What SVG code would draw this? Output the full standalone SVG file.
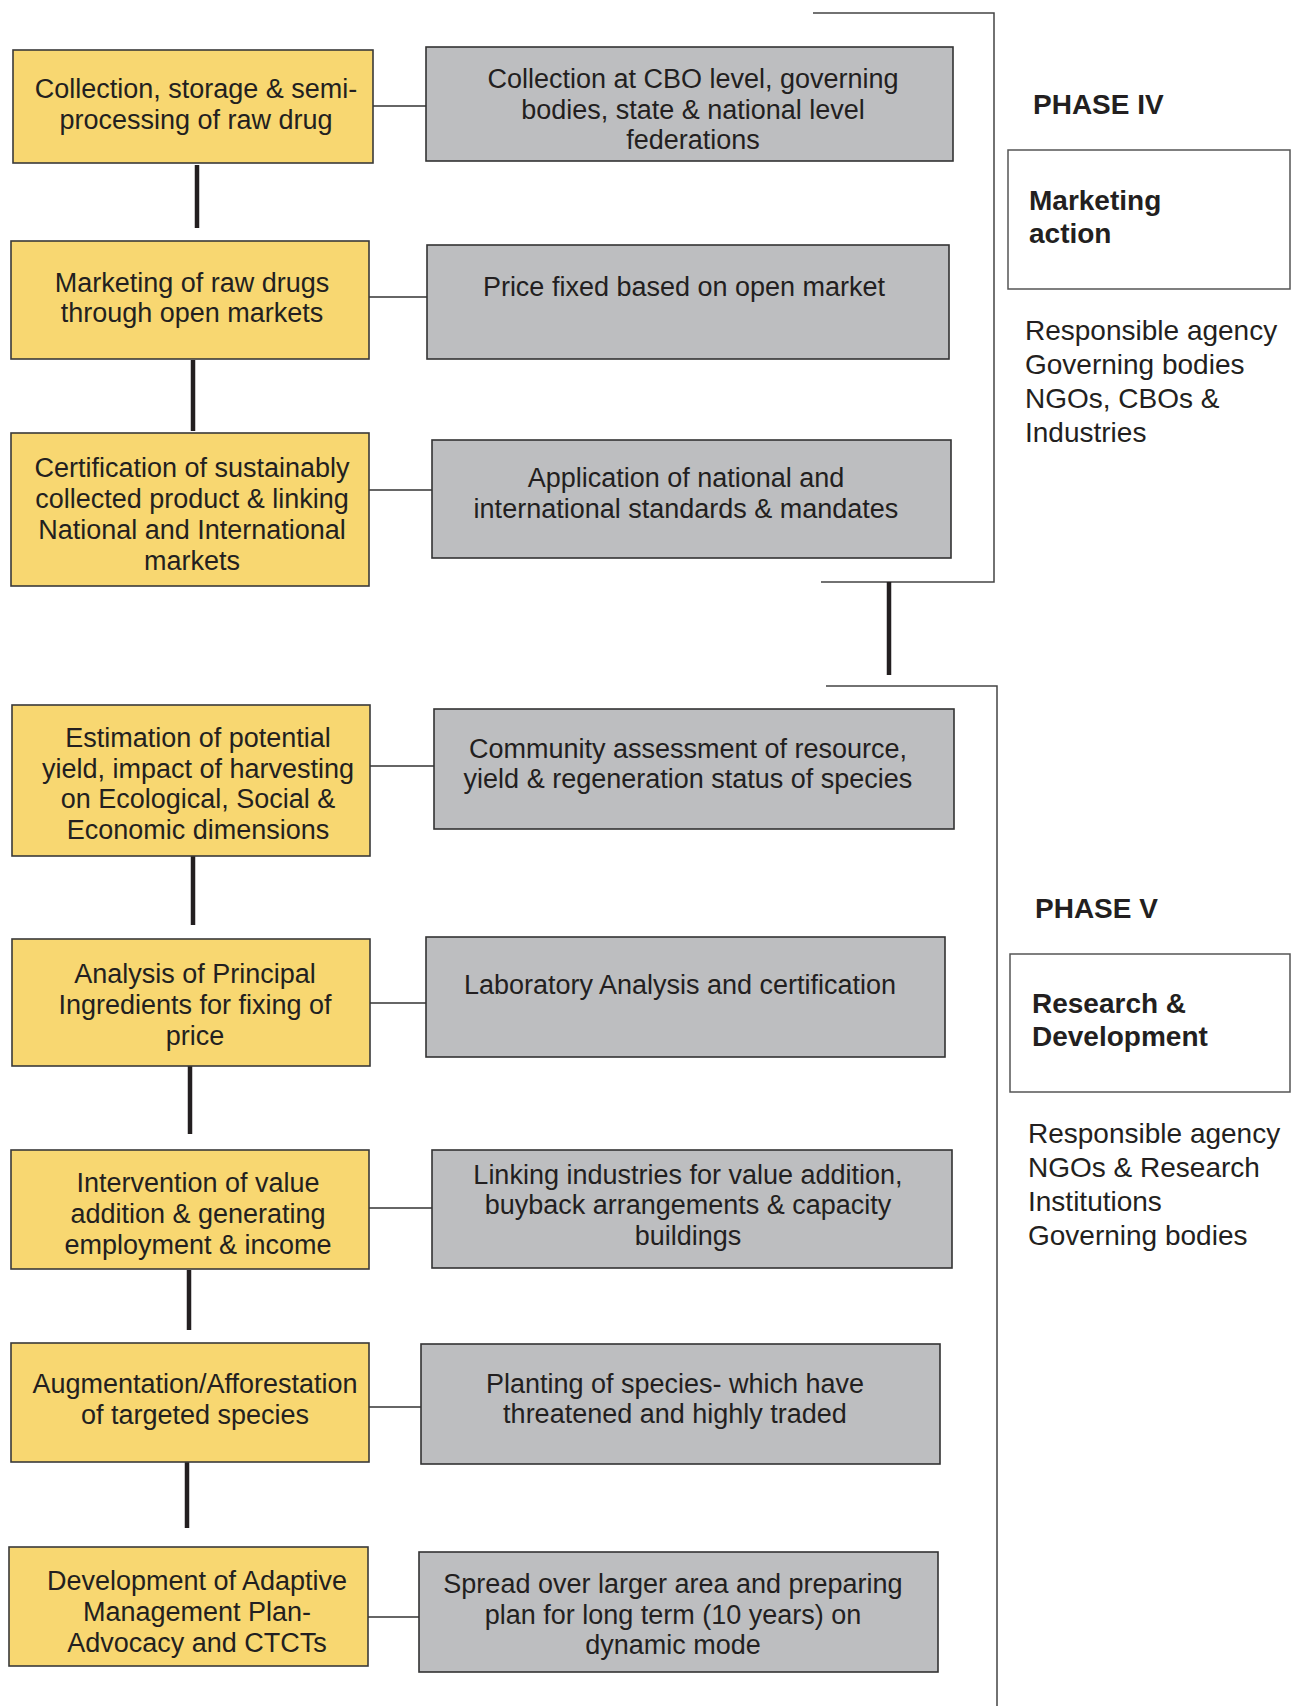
<svg xmlns="http://www.w3.org/2000/svg" width="1291" height="1706" viewBox="0 0 1291 1706">
<style>
.y{fill:#f8d771;stroke:#3a3a3a;stroke-width:1.6}
.g{fill:#bdbec0;stroke:#333;stroke-width:1.6}
.w{fill:#fff;stroke:#555;stroke-width:1.5}
.t{font-family:"Liberation Sans",Arial,sans-serif;font-size:27px;fill:#231f20;text-anchor:middle}
.r{font-family:"Liberation Sans",Arial,sans-serif;font-size:28px;fill:#231f20}
.b{font-family:"Liberation Sans",Arial,sans-serif;font-size:28px;font-weight:bold;fill:#231f20}
.thin{stroke:#333;stroke-width:1.3;fill:none}
.thick{stroke:#231f20;stroke-width:4.5;fill:none}
.br{stroke:#444;stroke-width:1.5;fill:none}
</style>
<rect width="1291" height="1706" fill="#fff"/>
<g id="connectors">
<line class="thin" x1="373" y1="106" x2="427" y2="106"/>
<line class="thin" x1="369" y1="297" x2="428" y2="297"/>
<line class="thin" x1="369" y1="490" x2="432" y2="490"/>
<line class="thin" x1="370" y1="766" x2="434" y2="766"/>
<line class="thin" x1="370" y1="1003" x2="426" y2="1003"/>
<line class="thin" x1="369" y1="1208" x2="432" y2="1208"/>
<line class="thin" x1="367" y1="1407" x2="425" y2="1407"/>
<line class="thin" x1="368" y1="1617" x2="419" y2="1617"/>
<line class="thick" x1="197" y1="165" x2="197" y2="228"/>
<line class="thick" x1="193" y1="360" x2="193" y2="431"/>
<line class="thick" x1="193" y1="856" x2="193" y2="925"/>
<line class="thick" x1="190" y1="1066" x2="190" y2="1134"/>
<line class="thick" x1="189" y1="1270" x2="189" y2="1330"/>
<line class="thick" x1="187" y1="1459" x2="187" y2="1528"/>
<polyline class="br" points="813,13 994,13 994,582 821,582"/>
<line class="thick" x1="889" y1="582" x2="889" y2="675"/>
<polyline class="br" points="826,686 997,686 997,1706"/>
</g>
<g id="y1"><rect class="y" x="13" y="50" width="360" height="113"/>
<text class="t" x="196" y="98">Collection, storage &amp; semi-</text><text class="t" x="196" y="129">processing of raw drug</text></g>
<g id="y2"><rect class="y" x="11" y="241" width="358" height="118"/>
<text class="t" x="192" y="292">Marketing of raw drugs</text><text class="t" x="192" y="322">through open markets</text></g>
<g id="y3"><rect class="y" x="11" y="433" width="358" height="153"/>
<text class="t" x="192" y="477">Certification of sustainably</text><text class="t" x="192" y="508">collected product &amp; linking</text><text class="t" x="192" y="539">National and International</text><text class="t" x="192" y="570">markets</text></g>
<g id="y4"><rect class="y" x="12" y="705" width="358" height="151"/>
<text class="t" x="198" y="747">Estimation of potential</text><text class="t" x="198" y="778">yield, impact of harvesting</text><text class="t" x="198" y="808">on Ecological, Social &amp;</text><text class="t" x="198" y="839">Economic dimensions</text></g>
<g id="y5"><rect class="y" x="12" y="939" width="358" height="127"/>
<text class="t" x="195" y="983">Analysis of Principal</text><text class="t" x="195" y="1014">Ingredients for fixing of</text><text class="t" x="195" y="1045">price</text></g>
<g id="y6"><rect class="y" x="11" y="1150" width="358" height="119"/>
<text class="t" x="198" y="1192">Intervention of value</text><text class="t" x="198" y="1223">addition &amp; generating</text><text class="t" x="198" y="1254">employment &amp; income</text></g>
<g id="y7"><rect class="y" x="11" y="1343" width="358" height="119"/>
<text class="t" x="195" y="1393">Augmentation/Afforestation</text><text class="t" x="195" y="1424">of targeted species</text></g>
<g id="y8"><rect class="y" x="9" y="1547" width="359" height="119"/>
<text class="t" x="197" y="1590">Development of Adaptive</text><text class="t" x="197" y="1621">Management Plan-</text><text class="t" x="197" y="1652">Advocacy and CTCTs</text></g>
<g id="g1"><rect class="g" x="426" y="47" width="527" height="114"/>
<text class="t" x="693" y="88">Collection at CBO level, governing</text><text class="t" x="693" y="119">bodies, state &amp; national level</text><text class="t" x="693" y="149">federations</text></g>
<g id="g2"><rect class="g" x="427" y="245" width="522" height="114"/>
<text class="t" x="684" y="296">Price fixed based on open market</text></g>
<g id="g3"><rect class="g" x="432" y="440" width="519" height="118"/>
<text class="t" x="686" y="487">Application of national and</text><text class="t" x="686" y="518">international standards &amp; mandates</text></g>
<g id="g4"><rect class="g" x="434" y="709" width="520" height="120"/>
<text class="t" x="688" y="758">Community assessment of resource,</text><text class="t" x="688" y="788">yield &amp; regeneration status of species</text></g>
<g id="g5"><rect class="g" x="426" y="937" width="519" height="120"/>
<text class="t" x="680" y="994">Laboratory Analysis and certification</text></g>
<g id="g6"><rect class="g" x="432" y="1150" width="520" height="118"/>
<text class="t" x="688" y="1184">Linking industries for value addition,</text><text class="t" x="688" y="1214">buyback arrangements &amp; capacity</text><text class="t" x="688" y="1245">buildings</text></g>
<g id="g7"><rect class="g" x="421" y="1344" width="519" height="120"/>
<text class="t" x="675" y="1393">Planting of species- which have</text><text class="t" x="675" y="1423">threatened and highly traded</text></g>
<g id="g8"><rect class="g" x="419" y="1552" width="519" height="120"/>
<text class="t" x="673" y="1593">Spread over larger area and preparing</text><text class="t" x="673" y="1624">plan for long term (10 years) on</text><text class="t" x="673" y="1654">dynamic mode</text></g>
<g id="phase4">
<text class="b" x="1033" y="114">PHASE IV</text>
<rect class="w" x="1008" y="150" width="282" height="139"/>
<text class="b" x="1029" y="210">Marketing</text><text class="b" x="1029" y="243">action</text>
<text class="r" x="1025" y="340">Responsible agency</text><text class="r" x="1025" y="374">Governing bodies</text><text class="r" x="1025" y="408">NGOs, CBOs &amp;</text><text class="r" x="1025" y="442">Industries</text>
</g>
<g id="phase5">
<text class="b" x="1035" y="918">PHASE V</text>
<rect class="w" x="1010" y="954" width="280" height="138"/>
<text class="b" x="1032" y="1013">Research &amp;</text><text class="b" x="1032" y="1046">Development</text>
<text class="r" x="1028" y="1143">Responsible agency</text><text class="r" x="1028" y="1177">NGOs &amp; Research</text><text class="r" x="1028" y="1211">Institutions</text><text class="r" x="1028" y="1245">Governing bodies</text>
</g>
</svg>
